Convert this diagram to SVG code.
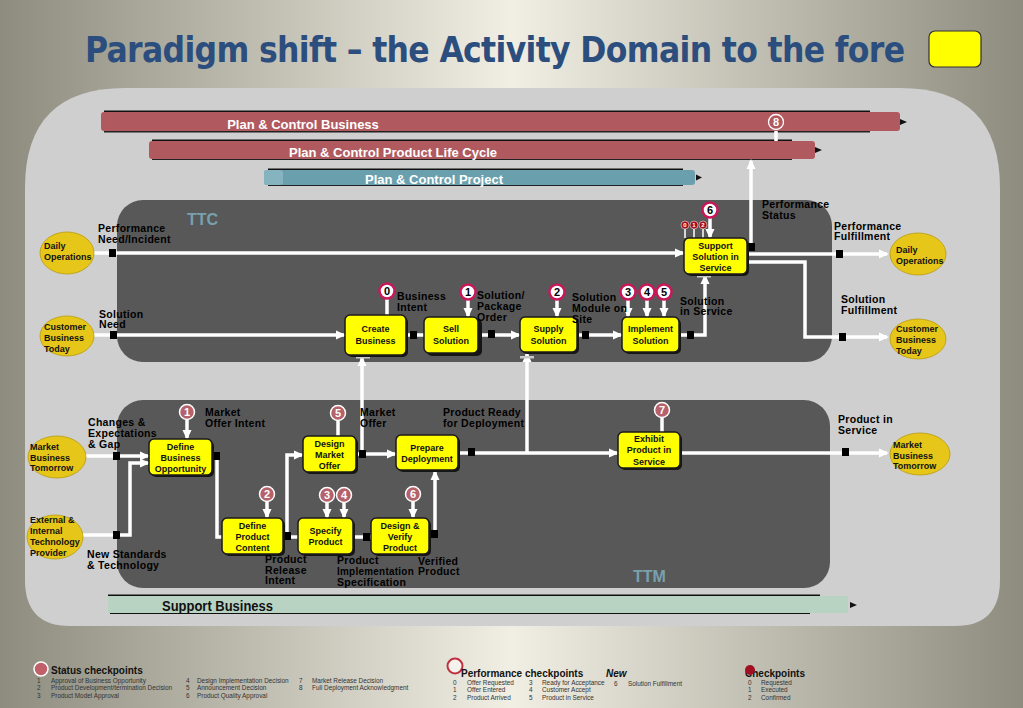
<svg xmlns="http://www.w3.org/2000/svg" width="1023" height="708" viewBox="0 0 1023 708">
<defs>
<linearGradient id="bg" x1="0" y1="0" x2="1" y2="0">
<stop offset="0" stop-color="#8d8c7e"/>
<stop offset="0.5" stop-color="#f1eee3"/>
<stop offset="1" stop-color="#8d8c7e"/>
</linearGradient>
<marker id="ah" markerUnits="userSpaceOnUse" markerWidth="10" markerHeight="10" refX="8" refY="5" orient="auto">
<path d="M0,0.5 L10,5 L0,9.5 z" fill="#ffffff"/>
</marker>
<style>
.box{fill:#ffff00;stroke:#1a1a1a;stroke-width:1.5}
.shd{fill:#151515}
.nt{font-family:"Liberation Sans",Arial,sans-serif;font-size:9px;font-weight:bold;text-anchor:middle;fill:#111}
.et{font-family:"Liberation Sans",Arial,sans-serif;font-size:9px;font-weight:bold;fill:#111}
.ell{fill:#e6c619;stroke:#b89c10;stroke-width:0.8}
.lbl{font-family:"Liberation Sans",Arial,sans-serif;font-size:10.5px;font-weight:bold;fill:#000;letter-spacing:0.3px}
.conn{stroke:#ffffff;stroke-width:3.5;fill:none}
.arr{marker-end:url(#ah)}
.sq{fill:#000}
.cw{fill:#ffffff;stroke:#c8185a;stroke-width:2.5}
.cwt{font-family:"Liberation Sans",Arial,sans-serif;font-size:11px;font-weight:bold;text-anchor:middle;fill:#000}
.cp{fill:#b5626b;stroke:#ffffff;stroke-width:1.5}
.cpt{font-family:"Liberation Sans",Arial,sans-serif;font-size:11px;font-weight:bold;text-anchor:middle;fill:#fff}
.cs{fill:#a50d1c;stroke:#e8e8e8;stroke-width:0.6}
.cst{font-family:"Liberation Sans",Arial,sans-serif;font-size:6px;font-weight:bold;text-anchor:middle;fill:#fff}
.bart{font-family:"Liberation Sans",Arial,sans-serif;font-size:13px;font-weight:bold;fill:#fff;text-anchor:middle}
.zone{font-family:"Liberation Sans",Arial,sans-serif;font-size:16px;font-weight:bold;fill:#78a1ae}
.lg{font-family:"Liberation Sans",Arial,sans-serif;font-size:6.4px;fill:#333}
.lgh{font-family:"Liberation Sans",Arial,sans-serif;font-size:10px;font-weight:bold;fill:#111}
.mk{fill:#c8c8c8}
</style>
</defs>

<rect x="0" y="0" width="1023" height="708" fill="url(#bg)"/>
<text x="85" y="62" font-family="DejaVu Sans Condensed, DejaVu Sans, sans-serif" font-stretch="condensed" font-weight="bold" font-size="35" fill="#2b4e7e" textLength="820" lengthAdjust="spacing">Paradigm shift – the Activity Domain to the fore</text>
<rect x="929" y="31" width="52" height="36" rx="6" fill="#ffff00" stroke="#333" stroke-width="1.2"/>

<!-- main panel -->
<path d="M125,88 H900 Q1000,88 1000,188 V580 Q1000,626 955,626 H70 Q25,626 25,580 V188 Q25,88 125,88 Z" fill="#cfcfcf"/>
<rect x="117" y="200" width="715" height="162" rx="26" fill="#585858"/>
<rect x="117" y="400" width="713" height="188" rx="26" fill="#585858"/>
<text class="zone" x="187" y="225">TTC</text>
<text class="zone" x="633" y="582">TTM</text>

<!-- bars -->
<g id="bar_business">
<rect x="104" y="110.5" width="766" height="2" fill="#111"/>
<rect x="104" y="131" width="766" height="1.5" fill="#222"/>
<rect x="101" y="112" width="799" height="19" rx="3" fill="#b05a60"/>
<path d="M900,119 L907,122 L900,125 Z" fill="#111"/>
<text class="bart" x="303" y="129">Plan &amp; Control Business</text>
</g>
<g id="bar_plc">
<rect x="152" y="139.5" width="640" height="2" fill="#111"/>
<rect x="152" y="158.5" width="640" height="1.5" fill="#222"/>
<rect x="149" y="141" width="666" height="18" rx="3" fill="#b05a60"/>
<path d="M815,147 L822,150 L815,153 Z" fill="#111"/>
<text class="bart" x="393" y="157">Plan &amp; Control Product Life Cycle</text>
</g>
<g id="bar_project">
<rect x="268" y="168.5" width="415" height="2" fill="#111"/>
<rect x="268" y="184.5" width="415" height="1.5" fill="#222"/>
<rect x="264" y="170" width="431" height="15" rx="3" fill="#6a9fae"/>
<rect x="264" y="170" width="19" height="15" rx="3" fill="#85b3c0"/>
<path d="M696,174.5 L702,177.5 L696,180.5 Z" fill="#111"/>
<text class="bart" x="434" y="184">Plan &amp; Control Project</text>
</g>
<g id="bar_support">
<rect x="108" y="594.5" width="712" height="2" fill="#111"/>
<rect x="110" y="612.5" width="700" height="1.5" fill="#111"/>
<rect x="108" y="596" width="740" height="17" fill="#b9d3c3"/>
<path d="M850,602 L857,605 L850,608 Z" fill="#111"/>
<text x="162" y="611" font-family="Liberation Sans, Arial, sans-serif" font-weight="bold" font-size="14" fill="#111" textLength="111" lengthAdjust="spacingAndGlyphs">Support Business</text>
</g>

<!-- connectors -->
<g id="connectors">
<path class="conn arr" d="M94,253 H683"/>
<path class="conn arr" d="M94,335 H344"/>
<path class="conn" d="M406,335 H424"/>
<path class="conn arr" d="M478,335 H519"/>
<path class="conn arr" d="M577,335 H621"/>
<path class="conn arr" d="M679,335 H705 V276"/>
<path class="conn arr" d="M747,254 H887"/>
<path class="conn arr" d="M747,262 H805 V337 H887"/>
<path class="conn arr" d="M751,246 V161"/>
<path class="conn" d="M776,131 V141"/>
<path class="conn arr" d="M362,454 V358"/>
<path class="conn arr" d="M527,453 V354"/>
<path class="conn arr" d="M85,456 H148"/>
<path class="conn arr" d="M82,535 H130 V463 H148"/>
<path class="conn" d="M212,456 H217 V537 H222"/>
<path class="conn" d="M283,537 H298"/>
<path class="conn arr" d="M287,537 V455 H302"/>
<path class="conn" d="M353,537 H371"/>
<path class="conn arr" d="M429,535 H435 V472"/>
<path class="conn arr" d="M356,454 H395"/>
<path class="conn arr" d="M458,453 H617"/>
<path class="conn arr" d="M680,453 H887"/>
<!-- checkpoint feeders -->
<path class="conn" d="M387,299 V315"/>
<path class="conn arr" d="M468,300 V316"/>
<path class="conn arr" d="M557,300 V316"/>
<path class="conn arr" d="M628,300 V316"/>
<path class="conn arr" d="M647,300 V316"/>
<path class="conn arr" d="M664,300 V316"/>
<path class="conn arr" d="M710,218 V237"/>
<path d="M685,229 V238 M694,229 V238 M703,229 V238" stroke="#fff" stroke-width="1.5"/>
<path class="conn arr" d="M187,420 V438"/>
<path class="conn arr" d="M267,502 V517"/>
<path class="conn arr" d="M327,503 V517"/>
<path class="conn arr" d="M344,503 V517"/>
<path class="conn" d="M338,421 V436"/>
<path class="conn arr" d="M413,502 V517"/>
<path class="conn" d="M662,418 V432"/>
<!-- junction squares -->
<rect class="sq" x="109" y="249" width="7" height="8"/>
<rect class="sq" x="110" y="331" width="7" height="8"/>
<rect class="sq" x="410" y="331" width="7" height="8"/>
<rect class="sq" x="488" y="330" width="7" height="8"/>
<rect class="sq" x="582" y="331" width="7" height="8"/>
<rect class="sq" x="687" y="331" width="7" height="8"/>
<rect class="sq" x="836" y="250" width="7" height="8"/>
<rect class="sq" x="839" y="333" width="7" height="8"/>
<rect class="sq" x="748" y="243" width="7" height="8"/>
<rect class="sq" x="113" y="452" width="7" height="8"/>
<rect class="sq" x="113" y="531" width="7" height="8"/>
<rect class="sq" x="213" y="452" width="7" height="8"/>
<rect class="sq" x="284" y="532" width="7" height="8"/>
<rect class="sq" x="363" y="533" width="7" height="8"/>
<rect class="sq" x="431" y="530" width="7" height="8"/>
<rect class="sq" x="359" y="450" width="7" height="8"/>
<rect class="sq" x="468" y="448" width="7" height="8"/>
<rect class="sq" x="842" y="448" width="7" height="8"/>
<rect class="mk" x="356" y="356" width="14" height="2.5"/>
<rect class="mk" x="520" y="356" width="14" height="2.5"/>
<rect class="mk" x="697" y="275" width="14" height="2.5"/>
</g>

<!-- TTC nodes -->
<g id="create_business"><rect class="shd" x="347" y="317" width="61" height="40" rx="5"/><rect class="box" x="345" y="315" width="61" height="40" rx="5"/><text class="nt" x="375.5" y="332">Create</text><text class="nt" x="375.5" y="344">Business</text></g>
<g id="sell_solution"><rect class="shd" x="427" y="319" width="55" height="37" rx="5"/><rect class="box" x="424" y="317" width="54" height="36" rx="5"/><text class="nt" x="451" y="332">Sell</text><text class="nt" x="451" y="344">Solution</text></g>
<g id="supply_solution"><rect class="shd" x="522" y="319" width="57" height="35" rx="5"/><rect class="box" x="520" y="317" width="57" height="35" rx="5"/><text class="nt" x="548.5" y="332">Supply</text><text class="nt" x="548.5" y="344">Solution</text></g>
<g id="implement_solution"><rect class="shd" x="624" y="319" width="57" height="35" rx="5"/><rect class="box" x="622" y="317" width="57" height="35" rx="5"/><text class="nt" x="650.5" y="332">Implement</text><text class="nt" x="650.5" y="344">Solution</text></g>
<g id="support_solution"><rect class="shd" x="686" y="240" width="63" height="36" rx="5"/><rect class="box" x="684" y="238" width="63" height="36" rx="5"/><text class="nt" x="715.5" y="249">Support</text><text class="nt" x="715.5" y="260">Solution in</text><text class="nt" x="715.5" y="271">Service</text></g>

<!-- TTM nodes -->
<g id="define_business_opportunity"><rect class="shd" x="151" y="441" width="63" height="36" rx="5"/><rect class="box" x="149" y="439" width="63" height="36" rx="5"/><text class="nt" x="180.5" y="450">Define</text><text class="nt" x="180.5" y="461">Business</text><text class="nt" x="180.5" y="472">Opportunity</text></g>
<g id="define_product_content"><rect class="shd" x="224" y="520" width="61" height="36" rx="5"/><rect class="box" x="222" y="518" width="61" height="36" rx="5"/><text class="nt" x="252.5" y="529">Define</text><text class="nt" x="252.5" y="540">Product</text><text class="nt" x="252.5" y="551">Content</text></g>
<g id="specify_product"><rect class="shd" x="300" y="520" width="55" height="36" rx="5"/><rect class="box" x="298" y="518" width="55" height="36" rx="5"/><text class="nt" x="325.5" y="534">Specify</text><text class="nt" x="325.5" y="545">Product</text></g>
<g id="design_market_offer"><rect class="shd" x="305" y="438" width="53" height="36" rx="5"/><rect class="box" x="303" y="436" width="53" height="36" rx="5"/><text class="nt" x="329.5" y="447">Design</text><text class="nt" x="329.5" y="458">Market</text><text class="nt" x="329.5" y="469">Offer</text></g>
<g id="prepare_deployment"><rect class="shd" x="398" y="437" width="62" height="35" rx="5"/><rect class="box" x="396" y="435" width="62" height="35" rx="5"/><text class="nt" x="427" y="451">Prepare</text><text class="nt" x="427" y="462">Deployment</text></g>
<g id="design_verify_product"><rect class="shd" x="373" y="520" width="58" height="36" rx="5"/><rect class="box" x="371" y="518" width="58" height="36" rx="5"/><text class="nt" x="400" y="529">Design &amp;</text><text class="nt" x="400" y="540">Verify</text><text class="nt" x="400" y="551">Product</text></g>
<g id="exhibit_product"><rect class="shd" x="620" y="434" width="62" height="36" rx="5"/><rect class="box" x="618" y="432" width="62" height="36" rx="5"/><text class="nt" x="649" y="442">Exhibit</text><text class="nt" x="649" y="453">Product in</text><text class="nt" x="649" y="465">Service</text></g>

<!-- ellipses -->
<g id="daily_ops_left"><ellipse class="ell" cx="67" cy="253" rx="27" ry="21"/><text class="et" x="44" y="249">Daily</text><text class="et" x="44" y="260">Operations</text></g>
<g id="cbt_left"><ellipse class="ell" cx="67" cy="336" rx="27" ry="20"/><text class="et" x="44" y="330">Customer</text><text class="et" x="44" y="341">Business</text><text class="et" x="44" y="352">Today</text></g>
<g id="daily_ops_right"><ellipse class="ell" cx="918" cy="254" rx="28" ry="21"/><text class="et" x="896" y="253">Daily</text><text class="et" x="896" y="264">Operations</text></g>
<g id="cbt_right"><ellipse class="ell" cx="918" cy="339" rx="28" ry="20"/><text class="et" x="896" y="332">Customer</text><text class="et" x="896" y="343">Business</text><text class="et" x="896" y="354">Today</text></g>
<g id="mbt_left"><ellipse class="ell" cx="57" cy="457" rx="29" ry="21"/><text class="et" x="30" y="450">Market</text><text class="et" x="30" y="461">Business</text><text class="et" x="30" y="471">Tomorrow</text></g>
<g id="ext_tech"><ellipse class="ell" cx="55" cy="537" rx="28" ry="22"/><text class="et" x="30" y="523">External &amp;</text><text class="et" x="30" y="534">Internal</text><text class="et" x="30" y="545">Technology</text><text class="et" x="30" y="556">Provider</text></g>
<g id="mbt_right"><ellipse class="ell" cx="920" cy="454" rx="30" ry="21"/><text class="et" x="893" y="448">Market</text><text class="et" x="893" y="459">Business</text><text class="et" x="893" y="469">Tomorrow</text></g>

<!-- checkpoints -->
<g id="checkpoints">
<circle class="cw" cx="387" cy="291" r="7.5"/><text class="cwt" x="387" y="295">0</text>
<circle class="cw" cx="468" cy="292" r="7.5"/><text class="cwt" x="468" y="296">1</text>
<circle class="cw" cx="557" cy="292" r="7.5"/><text class="cwt" x="557" y="296">2</text>
<circle class="cw" cx="628" cy="292" r="7.5"/><text class="cwt" x="628" y="296">3</text>
<circle class="cw" cx="647" cy="292" r="7.5"/><text class="cwt" x="647" y="296">4</text>
<circle class="cw" cx="664" cy="292" r="7.5"/><text class="cwt" x="664" y="296">5</text>
<circle class="cw" cx="710" cy="210" r="7.5"/><text class="cwt" x="710" y="214">6</text>
<circle class="cs" cx="685" cy="225" r="4"/><text class="cst" x="685" y="227">0</text>
<circle class="cs" cx="694" cy="225" r="4"/><text class="cst" x="694" y="227">1</text>
<circle class="cs" cx="703" cy="225" r="4"/><text class="cst" x="703" y="227">2</text>
<circle class="cp" cx="187" cy="412" r="7.5"/><text class="cpt" x="187" y="416">1</text>
<circle class="cp" cx="267" cy="494" r="7.5"/><text class="cpt" x="267" y="498">2</text>
<circle class="cp" cx="327" cy="495" r="7.5"/><text class="cpt" x="327" y="499">3</text>
<circle class="cp" cx="344" cy="495" r="7.5"/><text class="cpt" x="344" y="499">4</text>
<circle class="cp" cx="338" cy="413" r="7.5"/><text class="cpt" x="338" y="417">5</text>
<circle class="cp" cx="413" cy="494" r="7.5"/><text class="cpt" x="413" y="498">6</text>
<circle class="cp" cx="662" cy="410" r="7.5"/><text class="cpt" x="662" y="414">7</text>
<circle cx="776" cy="122" r="7.5" fill="#b05a60" stroke="#fff" stroke-width="1.3"/><text class="cpt" x="776" y="126">8</text>
</g>

<!-- labels -->
<g id="labels">
<text class="lbl" x="98" y="232">Performance</text><text class="lbl" x="98" y="243">Need/Incident</text>
<text class="lbl" x="99" y="318">Solution</text><text class="lbl" x="99" y="328">Need</text>
<text class="lbl" x="397" y="300">Business</text><text class="lbl" x="397" y="311">Intent</text>
<text class="lbl" x="477" y="299">Solution/</text><text class="lbl" x="477" y="310">Package</text><text class="lbl" x="477" y="321">Order</text>
<text class="lbl" x="572" y="301">Solution</text><text class="lbl" x="572" y="312">Module on</text><text class="lbl" x="572" y="323">Site</text>
<text class="lbl" x="680" y="305">Solution</text><text class="lbl" x="680" y="315">in Service</text>
<text class="lbl" x="762" y="208">Performance</text><text class="lbl" x="762" y="219">Status</text>
<text class="lbl" x="834" y="230">Performance</text><text class="lbl" x="834" y="240">Fulfillment</text>
<text class="lbl" x="841" y="303">Solution</text><text class="lbl" x="841" y="314">Fulfillment</text>
<text class="lbl" x="205" y="416">Market</text><text class="lbl" x="205" y="427">Offer Intent</text>
<text class="lbl" x="88" y="426">Changes &amp;</text><text class="lbl" x="88" y="437">Expectations</text><text class="lbl" x="88" y="448">&amp; Gap</text>
<text class="lbl" x="87" y="558">New Standards</text><text class="lbl" x="87" y="569">&amp; Technology</text>
<text class="lbl" x="265" y="563">Product</text><text class="lbl" x="265" y="574">Release</text><text class="lbl" x="265" y="584">Intent</text>
<text class="lbl" x="360" y="416">Market</text><text class="lbl" x="360" y="427">Offer</text>
<text class="lbl" x="443" y="416">Product Ready</text><text class="lbl" x="443" y="427">for Deployment</text>
<text class="lbl" x="337" y="564">Product</text><text class="lbl" x="337" y="575" textLength="77" lengthAdjust="spacingAndGlyphs">Implementation</text><text class="lbl" x="337" y="586">Specification</text>
<text class="lbl" x="418" y="565">Verified</text><text class="lbl" x="418" y="575">Product</text>
<text class="lbl" x="838" y="423">Product in</text><text class="lbl" x="838" y="434">Service</text>
</g>

<!-- legend -->
<g id="legend_status">
<circle cx="41" cy="669" r="7" fill="#c0606a" stroke="#fff" stroke-width="1.5"/>
<text class="lgh" x="51" y="674">Status checkpoints</text>
<text class="lg" x="37" y="683">1</text><text class="lg" x="51" y="683">Approval of Business Opportunity</text>
<text class="lg" x="37" y="690">2</text><text class="lg" x="51" y="690">Product Development/termination Decision</text>
<text class="lg" x="37" y="698">3</text><text class="lg" x="51" y="698">Product Model Approval</text>
<text class="lg" x="186" y="683">4</text><text class="lg" x="197" y="683">Design Implementation Decision</text>
<text class="lg" x="186" y="690">5</text><text class="lg" x="197" y="690">Announcement Decision</text>
<text class="lg" x="186" y="698">6</text><text class="lg" x="197" y="698">Product Quality Approval</text>
<text class="lg" x="299" y="683">7</text><text class="lg" x="312" y="683">Market Release Decision</text>
<text class="lg" x="299" y="690">8</text><text class="lg" x="312" y="690">Full Deployment Acknowledgment</text>
</g>
<g id="legend_performance">
<circle cx="455" cy="666" r="7.5" fill="#f4f2ec" stroke="#c03040" stroke-width="2"/>
<text class="lgh" x="461" y="677">Performance checkpoints</text>
<text class="lgh" x="606" y="677" font-style="italic">New</text>
<text class="lg" x="453" y="685">0</text><text class="lg" x="467" y="685">Offer Requested</text>
<text class="lg" x="453" y="692">1</text><text class="lg" x="467" y="692">Offer Entered</text>
<text class="lg" x="453" y="700">2</text><text class="lg" x="467" y="700">Product Arrived</text>
<text class="lg" x="529" y="685">3</text><text class="lg" x="542" y="685">Ready for Acceptance</text>
<text class="lg" x="529" y="692">4</text><text class="lg" x="542" y="692">Customer Accept</text>
<text class="lg" x="529" y="700">5</text><text class="lg" x="542" y="700">Product in Service</text>
<text class="lg" x="614" y="686">6</text><text class="lg" x="628" y="686">Solution Fulfillment</text>
</g>
<g id="legend_checkpoints">
<text class="lgh" x="745" y="677">Checkpoints</text>
<circle cx="750" cy="670" r="5" fill="#a01020"/>
<text class="lg" x="748" y="685">0</text><text class="lg" x="761" y="685">Requested</text>
<text class="lg" x="748" y="692">1</text><text class="lg" x="761" y="692">Executed</text>
<text class="lg" x="748" y="700">2</text><text class="lg" x="761" y="700">Confirmed</text>
</g>
</svg>
